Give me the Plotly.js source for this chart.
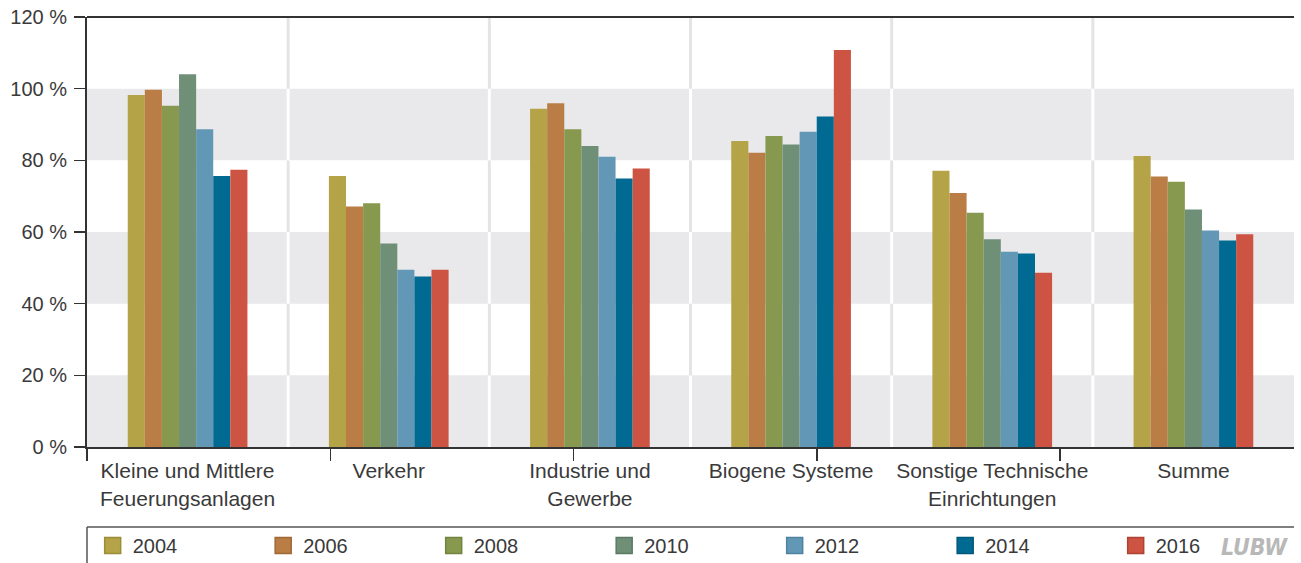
<!DOCTYPE html>
<html>
<head>
<meta charset="utf-8">
<script src="https://cdn.plot.ly/plotly-3.0.1.min.js"></script>
<style>html,body{margin:0;padding:0;background:#fff;}#chart{width:1301px;height:563px;}</style>
</head>
<body>
<div id="chart"></div>
<script>
const categories = [
  "Kleine und Mittlere<br>Feuerungsanlagen",
  "Verkehr",
  "Industrie und<br>Gewerbe",
  "Biogene Systeme",
  "Sonstige Technische<br>Einrichtungen",
  "Summe"
];
const years = ["2004", "2006", "2008", "2010", "2012", "2014", "2016"];
const v2004 = [98.2, 75.6, 94.4, 85.4, 77.1, 81.2];
const v2006 = [99.7, 67.1, 95.9, 82.1, 70.9, 75.5];
const v2008 = [95.2, 68.0, 88.7, 86.8, 65.4, 74.0];
const v2010 = [104.0, 56.8, 84.0, 84.4, 58.0, 66.3];
const v2012 = [88.7, 49.5, 81.0, 88.0, 54.5, 60.4];
const v2014 = [75.6, 47.6, 74.9, 92.2, 54.0, 57.6];
const v2016 = [77.4, 49.5, 77.7, 110.8, 48.6, 59.4];
const yTicks = [0, 20, 40, 60, 80, 100, 120];
const yTickText = ["0 %", "20 %", "40 %", "60 %", "80 %", "100 %", "120 %"];

const seriesValues = [v2004, v2006, v2008, v2010, v2012, v2014, v2016];
const colors = ["#b5a447", "#b97d45", "#87994f", "#6f8f77", "#6298b6", "#006a92", "#cd5442"];
const edgeColors = ["#9c8c35", "#9f6836", "#71833f", "#5b7a63", "#4f829e", "#00587a", "#b04233"];

const FONT = "'Liberation Sans', Arial, sans-serif";
const TXT = "#3a3a3a";

const traces = [];
years.forEach((yr, i) => {
  traces.push({
    type: "bar", name: yr, x: categories, y: seriesValues[i],
    marker: {color: colors[i], line: {width: 0}},
    showlegend: false, hoverinfo: "x+y+name"
  });
});
// legend entries (larger square swatches)
years.forEach((yr, i) => {
  traces.push({
    type: "scatter", mode: "markers", name: yr, x: [null], y: [null],
    marker: {symbol: "square", size: 16, color: colors[i], line: {color: edgeColors[i], width: 1.5}},
    showlegend: true, hoverinfo: "skip"
  });
});
// helper trace for the bottom tick axis
traces.push({type: "scatter", mode: "markers", x: [null], y: [null], xaxis: "x2", yaxis: "y", showlegend: false, hoverinfo: "skip"});

const shapes = [];
const GREY = "#e9e9eb";
for (let k = 0; k < yTicks.length - 1; k++) {
  const grey = (k % 2 === 0);
  if (grey) {
    shapes.push({type: "rect", layer: "below", xref: "paper", yref: "y", x0: 0, x1: 1,
      y0: yTicks[k], y1: yTicks[k + 1], fillcolor: GREY, line: {width: 0}});
  }
  for (let c = 0; c < categories.length - 1; c++) {
    shapes.push({type: "line", layer: "below", xref: "x", yref: "y", x0: c + 0.5, x1: c + 0.5,
      y0: yTicks[k], y1: yTicks[k + 1], line: {color: grey ? "#ffffff" : "#e4e4e6", width: 3}});
  }
}
// top border
shapes.push({type: "line", xref: "paper", yref: "paper", x0: 0, x1: 1, y0: 1, y1: 1, line: {color: "#333", width: 2}});
// legend box
const legTop = -80 / 430;
shapes.push({type: "line", xref: "paper", yref: "paper", x0: 0, x1: 1, y0: legTop, y1: legTop, line: {color: "#555", width: 1.5}});
shapes.push({type: "line", xref: "paper", yref: "paper", x0: 0, x1: 0, y0: legTop, y1: -0.35, line: {color: "#555", width: 1.5}});

const layout = {
  width: 1301, height: 563,
  margin: {l: 87, r: 7, t: 17, b: 116, autoexpand: false},
  paper_bgcolor: "#ffffff", plot_bgcolor: "#ffffff",
  font: {family: FONT, color: TXT, size: 20},
  barmode: "group", bargap: 0.405, bargroupgap: 0,
  showlegend: true,
  legend: {
    orientation: "h", x: 0.0047, xanchor: "left", y: -0.184, yanchor: "top",
    entrywidth: 125.5, entrywidthmode: "pixels",
    font: {family: FONT, size: 20, color: TXT},
    bgcolor: "rgba(0,0,0,0)", borderwidth: 0, traceorder: "normal"
  },
  xaxis: {
    type: "category", categoryorder: "array", categoryarray: categories,
    showline: true, linecolor: "#333", linewidth: 2,
    ticks: "", showgrid: false, zeroline: false,
    tickfont: {family: FONT, size: 21, color: TXT},
    ticklabelstandoff: 4,
    fixedrange: true
  },
  xaxis2: {
    overlaying: "x", anchor: "y", side: "bottom",
    range: [0, 1207 / 243.25], dtick: 1, tick0: 0,
    ticks: "outside", ticklen: 13, tickwidth: 1.5, tickcolor: "#333",
    showticklabels: false, showgrid: false, zeroline: false, showline: false,
    fixedrange: true
  },
  yaxis: {
    range: [0, 120], tickmode: "array", tickvals: yTicks, ticktext: yTickText,
    ticks: "outside", ticklen: 11, tickwidth: 1.5, tickcolor: "#333",
    showline: true, linecolor: "#333", linewidth: 2,
    showgrid: false, zeroline: false,
    tickfont: {family: FONT, size: 20, color: TXT},
    ticklabelstandoff: 3,
    fixedrange: true
  },
  shapes: shapes,
  annotations: [{
    text: "LUBW", xref: "paper", yref: "paper", x: 0.9967, y: -100 / 430,
    xanchor: "right", yanchor: "middle", showarrow: false,
    font: {family: "'Liberation Sans Narrow', 'DejaVu Sans Condensed', sans-serif", size: 23, color: "#b8b8b8", weight: "bold", style: "italic"}
  }]
};

Plotly.newPlot("chart", traces, layout, {displayModeBar: false, staticPlot: true});
</script>
</body>
</html>
